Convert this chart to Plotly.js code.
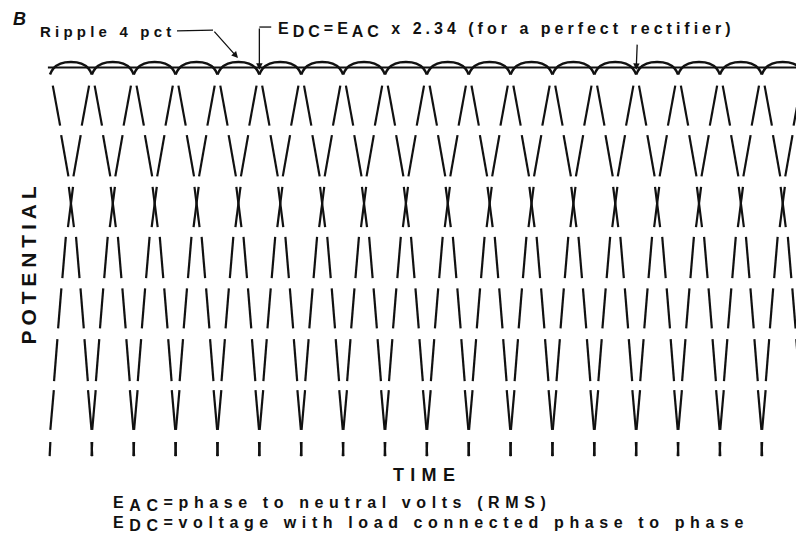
<!DOCTYPE html>
<html><head><meta charset="utf-8">
<script src="https://cdn.plot.ly/plotly-3.0.1.min.js"></script>
<style>
html,body{margin:0;padding:0;background:#fff;}
</style></head><body>
<div id="chart" style="width:796px;height:544px;"></div>
<script>
// Time (electrical degrees) where neighbouring phase curves cross = ripple minima
const crossingDeg = [30,90,150,210,270,330,390,450,510,570,630,690,750,810,870,930,990,1050,1110];
// Ripple arc: offset from a crossing (deg) and per-unit potential
const rippleOffsetDeg = [0,5,15,30,45,55,60];
const ripplePU = [0.968,0.984,0.996,1.0,0.996,0.984,0.968];
// DC level line (per unit)
const edcPU = 0.986;
// Horizontal bands in which the phase curves are drawn (per unit potential)
const bandTopPU    = [0.940,0.814,0.682,0.555,0.424,0.295,0.165,0.033];
const bandBottomPU = [0.838,0.709,0.580,0.450,0.322,0.188,0.064,-0.003];
// Horizontal distance (deg) of a phase curve from the crossing it leaves, at band top / bottom
const bandTopOffsetDeg    = [4.0,16.0,27.0,37.3,43.7,49.4,54.5,59.5];
const bandBottomOffsetDeg = [14.5,26.4,34.3,42.3,48.4,54.2,59.5,60.5];

// Text
const labelB = 'B';
const labelRipple = 'Ripple 4 pct';
const labelEdc = ['E', 'DC', '=E', 'AC', ' x 2.34 (for a perfect rectifier)'];
const labelX = 'TIME';
const labelY = 'POTENTIAL';
const legend1 = ['E', 'AC', '=phase to neutral volts (RMS)'];
const legend2 = ['E', 'DC', '=voltage with load connected phase to phase'];

// ---- build traces ----
const rx = [], ry = [];
for (let i = 0; i < crossingDeg.length - 1; i++) {
  for (let j = 0; j < rippleOffsetDeg.length; j++) {
    rx.push(crossingDeg[i] + rippleOffsetDeg[j]); ry.push(ripplePU[j]);
  }
  rx.push(null); ry.push(null);
}
const cx = [], cy = [];
const last = crossingDeg.length - 1;
for (let i = 0; i <= last; i++) {
  const c = crossingDeg[i];
  for (let b = 0; b < bandTopPU.length; b++) {
    if (i < last) { cx.push(c + bandTopOffsetDeg[b], c + bandBottomOffsetDeg[b], null); cy.push(bandTopPU[b], bandBottomPU[b], null); }
    if (i > 0)    { cx.push(c - bandTopOffsetDeg[b], c - bandBottomOffsetDeg[b], null); cy.push(bandTopPU[b], bandBottomPU[b], null); }
  }
}
const ink = '#111';
const traces = [
  {x: [crossingDeg[0] - 3, crossingDeg[last]], y: [edcPU, edcPU], mode: 'lines', line: {color: ink, width: 1.8}, hoverinfo: 'skip'},
  {x: rx, y: ry, mode: 'lines', line: {color: ink, width: 2.5, shape: 'spline', smoothing: 1}, connectgaps: false, hoverinfo: 'skip'},
  {x: cx, y: cy, mode: 'lines', line: {color: ink, width: 2.2}, connectgaps: false, hoverinfo: 'skip'}
];

// text helpers: letter-spaced spans, full-size subscripts
const sp = (s, ls) => '<span style="letter-spacing:' + ls + 'px">' + s + '</span>';
const withSubs = (parts, ls, size) => parts.map((p, i) => i % 2 === 1
  ? '<sub><span style="font-size:' + size + 'px;letter-spacing:' + ls + 'px">' + p + '</span></sub>'
  : sp(p, ls)).join('');

const W = 796, H = 544;
const px = v => v / W, py = v => 1 - v / H;
const font = (s, extra) => Object.assign({family: 'Liberation Sans, Arial, sans-serif', size: s, color: ink, weight: 'bold'}, extra || {});
const txt = (text, x, y, size, opts) => Object.assign({text: text, xref: 'paper', yref: 'paper', x: px(x), y: py(y), xanchor: 'left', yanchor: 'middle', showarrow: false, font: font(size)}, opts || {});
const arrow = (x, y, ax, ay) => ({text: '', x: x, y: y, ax: ax, ay: ay, xref: 'x', yref: 'y', axref: 'x', ayref: 'y', showarrow: true, arrowhead: 2, arrowsize: 1, arrowwidth: 1.3, arrowcolor: ink, standoff: 0, startstandoff: 0});

const annotations = [
  txt(labelB, 11, 19, 18, {font: font(18, {style: 'italic'})}),
  txt(sp(labelRipple, 4.2), 38, 31, 15),
  txt(withSubs(labelEdc, 4.0, 16), 276, 30, 16),
  txt(sp(labelX, 6.3), 427, 475, 18, {xanchor: 'center'}),
  txt(sp(labelY, 4.9), 27.5, 263, 21, {xanchor: 'center', textangle: -90}),
  txt(withSubs(legend1, 5.6, 16), 111, 504, 16),
  txt(withSubs(legend2, 5.6, 16), 111, 524, 16),
  arrow(299.4, 1.010, 263.6, 1.081),
  arrow(crossingDeg[5], 0.980, crossingDeg[5], 1.089),
  arrow(crossingDeg[14], 0.980, crossingDeg[14] + 1.5, 1.048)
];
const shapes = [
  {type: 'line', xref: 'x', yref: 'y', x0: 212, y0: 1.079, x1: 263.6, y1: 1.081, line: {color: ink, width: 1.3}},
  {type: 'line', xref: 'x', yref: 'y', x0: crossingDeg[5], y0: 1.089, x1: 347, y1: 1.089, line: {color: ink, width: 1.3}}
];

const layout = {
  width: W, height: H,
  margin: {l: 0, r: 0, t: 0, b: 0, pad: 0},
  paper_bgcolor: '#fff', plot_bgcolor: '#fff',
  showlegend: false,
  xaxis: {range: [-41.65, 1099.0], visible: false, fixedrange: true},
  yaxis: {range: [-0.2265, 1.1578], visible: false, fixedrange: true},
  annotations: annotations,
  shapes: shapes
};
Plotly.newPlot('chart', traces, layout, {staticPlot: true, displayModeBar: false});
</script></body></html>
